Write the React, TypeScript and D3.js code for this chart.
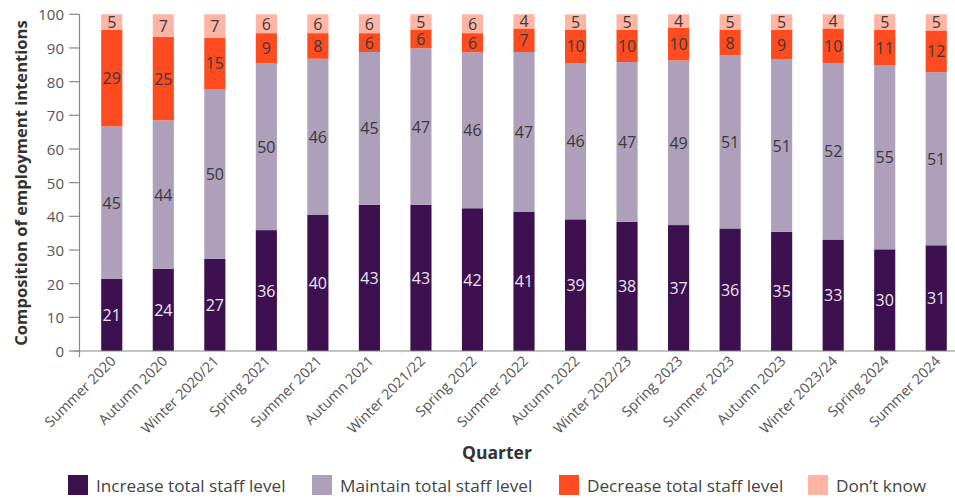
import React from "react";
import * as d3 from "d3";

const quarters = [
  "Summer 2020", "Autumn 2020", "Winter 2020/21", "Spring 2021", "Summer 2021",
  "Autumn 2021", "Winter 2021/22", "Spring 2022", "Summer 2022", "Autumn 2022",
  "Winter 2022/23", "Spring 2023", "Summer 2023", "Autumn 2023", "Winter 2023/24",
  "Spring 2024", "Summer 2024",
];
const increase = [21.4, 24.4, 27.4, 35.9, 40.4, 43.4, 43.4, 42.4, 41.4, 39.1, 38.4, 37.4, 36.4, 35.4, 33.1, 30.2, 31.4];
const maintain = [45.3, 44.1, 50.4, 49.6, 46.4, 45.4, 46.5, 46.3, 47.4, 46.4, 47.4, 48.9, 51.4, 51.2, 52.4, 54.6, 51.4];
const dontKnow = [4.6, 6.7, 7.0, 5.6, 5.6, 5.6, 4.5, 5.6, 4.2, 4.6, 4.6, 4.0, 4.6, 4.6, 4.2, 4.6, 4.8];
const decrease = quarters.map((_, i) => 100 - increase[i] - maintain[i] - dontKnow[i]);

const seriesNames = ["Increase total staff level", "Maintain total staff level", "Decrease total staff level", "Don\u2019t know"];
const seriesColors = ["#3d1150", "#ae9fbb", "#fe4b20", "#ffb4a4"];
const labelColors = ["#ece6f2", "#3a3a3a", "#3a3a3a", "#3a3a3a"];
const yTicks = [0, 10, 20, 30, 40, 50, 60, 70, 80, 90, 100];

const FONT = "'Open Sans', Lato, sans-serif";

export default function App() {
  const W = 955, H = 498;
  const x = d3.scaleBand<string>().domain(quarters).range([86, 962]).paddingInner(0.59).paddingOuter(0.295);
  const y = d3.scaleLinear().domain([0, 100]).range([351, 14.3]);
  const table = quarters.map((q, i) => ({ q, s0: increase[i], s1: maintain[i], s2: decrease[i], s3: dontKnow[i] }));
  const stack = d3.stack<any>().keys(["s0", "s1", "s2", "s3"]);
  const layers = stack(table);

  return (
    <svg width={W} height={H} style={{ position: "absolute", left: 0, top: 0, background: "#fff" }} fontFamily={FONT}>
      {layers.map((layer, li) => (
        <g key={li}>
          {layer.map((d, i) => {
            const y0 = y(d[0]);
            const y1 = y(d[1]);
            const xx = x(quarters[i])!;
            const bw = x.bandwidth();
            return (
              <g key={i}>
                <rect x={xx} y={y1} width={bw} height={y0 - y1} fill={seriesColors[li]} />
                <text
                  x={xx + bw / 2}
                  y={(y0 + y1) / 2}
                  textAnchor="middle"
                  dominantBaseline="central"
                  fontSize={16}
                  fill={labelColors[li]}
                >
                  {Math.round(d[1] - d[0])}
                </text>
              </g>
            );
          })}
        </g>
      ))}
      {/* y axis */}
      <line x1={79.5} x2={79.5} y1={y(100)} y2={357} stroke="#888" strokeWidth={1.2} />
      {yTicks.map((t) => (
        <g key={t}>
          <line x1={69} x2={79.5} y1={y(t)} y2={y(t)} stroke="#888" strokeWidth={1.2} />
          <text x={64} y={y(t)} textAnchor="end" dominantBaseline="central" fontSize={15} fill="#555">
            {t}
          </text>
        </g>
      ))}
      {/* x axis */}
      <line x1={74} x2={955} y1={y(0)} y2={y(0)} stroke="#888" strokeWidth={1.2} />
      {quarters.map((q) => {
        const cx = x(q)! + x.bandwidth() / 2 + 5;
        return (
          <text
            key={q}
            transform={`translate(${cx},${362}) rotate(-45)`}
            textAnchor="end"
            fontSize={14.3}
            fill="#555"
          >
            {q}
          </text>
        );
      })}
      {/* axis titles */}
      <text x={497} y={459} textAnchor="middle" fontSize={17.5} fontWeight="bold" fill="#333">
        Quarter
      </text>
      <text
        transform={`translate(27,${183}) rotate(-90)`}
        textAnchor="middle"
        fontSize={16.6}
        fontWeight="bold"
        fill="#333"
      >
        Composition of employment intentions
      </text>
      {/* legend */}
      {seriesNames.map((n, i) => {
        const lx = [68, 312, 559, 808][i];
        return (
          <g key={n}>
            <rect x={lx} y={475} width={20} height={20} fill={seriesColors[i]} />
            <text x={lx + 28} y={485.5} dominantBaseline="central" fontSize={17.2} fill="#444">
              {n}
            </text>
          </g>
        );
      })}
    </svg>
  );
}
